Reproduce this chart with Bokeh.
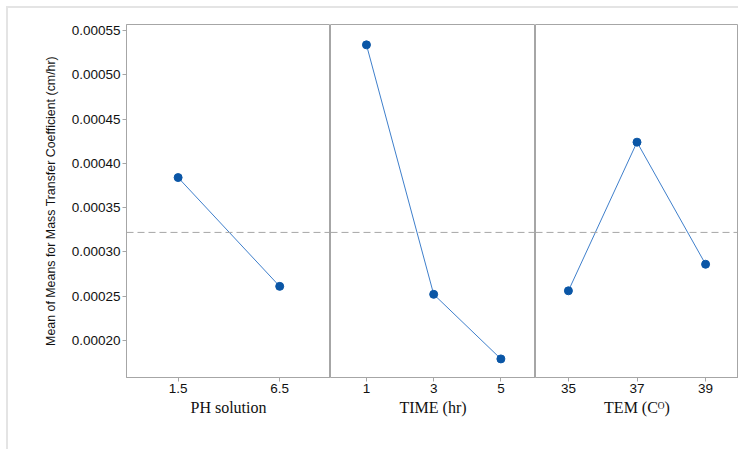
from bokeh.plotting import figure
from bokeh.layouts import row
from bokeh.models import FixedTicker, PrintfTickFormatter, Span, Range1d
from bokeh.embed import file_html
from bokeh.resources import INLINE

# ---- data ----
ph_levels = [1.5, 6.5]
ph_means = [0.000384, 0.000261]
time_levels = [1, 3, 5]
time_means = [0.000534, 0.000252, 0.000179]
tem_levels = [35, 37, 39]
tem_means = [0.000256, 0.000424, 0.000286]
grand_mean = 0.000322
y_ticks = [0.00020, 0.00025, 0.00030, 0.00035, 0.00040, 0.00045, 0.00050, 0.00055]
x_titles = ["PH solution", "TIME (hr)", "TEM (C\u1D3C)"]
y_title = "Mean of Means for Mass Transfer Coefficient (cm/hr)"

GRAY = "#a6a6a6"
LINE = "#3f7fcb"
DOT = "#0a56a6"

y_range = Range1d(0.000158, 0.000557)

def panel(levels, means, xr, title, fw, left, show_y):
    p = figure(frame_width=fw, frame_height=353, x_range=xr, y_range=y_range,
               output_backend="svg", toolbar_location=None,
               min_border_left=left, min_border_right=0,
               min_border_top=16, min_border_bottom=72,
               y_axis_location="left" if show_y else None)
    p.grid.visible = False
    p.outline_line_color = GRAY
    p.outline_line_width = 1
    p.background_fill_color = "white"
    p.border_fill_color = "white"
    ax = p.xaxis[0]
    ax.ticker = FixedTicker(ticks=levels)
    ax.major_label_overrides = {lv: str(lv) for lv in levels}
    ax.axis_line_color = GRAY
    ax.major_tick_line_color = GRAY
    ax.major_tick_out = 4
    ax.major_tick_in = 0
    ax.minor_tick_line_color = None
    ax.major_label_text_font = "Liberation Sans"
    ax.major_label_text_font_size = "13.5px"
    ax.major_label_text_color = "#111111"
    ax.major_label_standoff = 2
    ax.axis_label = title
    ax.axis_label_text_font = "Liberation Serif"
    ax.axis_label_text_font_style = "normal"
    ax.axis_label_text_font_size = "16px"
    ax.axis_label_text_color = "#111111"
    ax.axis_label_standoff = 3
    if show_y:
        ya = p.yaxis[0]
        ya.ticker = FixedTicker(ticks=y_ticks)
        ya.formatter = PrintfTickFormatter(format="%.5f")
        ya.axis_line_color = GRAY
        ya.major_tick_line_color = GRAY
        ya.major_tick_out = 4
        ya.major_tick_in = 0
        ya.minor_tick_line_color = None
        ya.major_label_text_font = "Liberation Sans"
        ya.major_label_text_font_size = "13.5px"
        ya.major_label_text_color = "#111111"
        ya.major_label_standoff = 2
        ya.axis_label = y_title
        ya.axis_label_text_font = "Liberation Sans"
        ya.axis_label_text_font_style = "normal"
        ya.axis_label_text_font_size = "12.4px"
        ya.axis_label_text_color = "#111111"
        ya.axis_label_standoff = 11
    p.add_layout(Span(location=grand_mean, dimension="width", line_color=GRAY,
                      line_dash="7 4", line_width=1))
    p.line(levels, means, line_color=LINE, line_width=1)
    p.scatter(levels, means, size=8, fill_color=DOT, line_color=DOT)
    return p

p1 = panel(ph_levels, ph_means, Range1d(-1.04, 9.0), x_titles[0], 204, 118, True)
p2 = panel(time_levels, time_means, Range1d(-0.07, 6.03), x_titles[1], 205, 0, False)
p3 = panel(tem_levels, tem_means, Range1d(34.04, 39.96), x_titles[2], 203, 0, False)

layout = row(p1, p2, p3, margin=(6, 0, 0, 6),
             styles={"border-top": "2px solid #e4e4e4",
                     "border-left": "2px solid #e4e4e4"})

open("out.html", "w").write(file_html(layout, INLINE))
